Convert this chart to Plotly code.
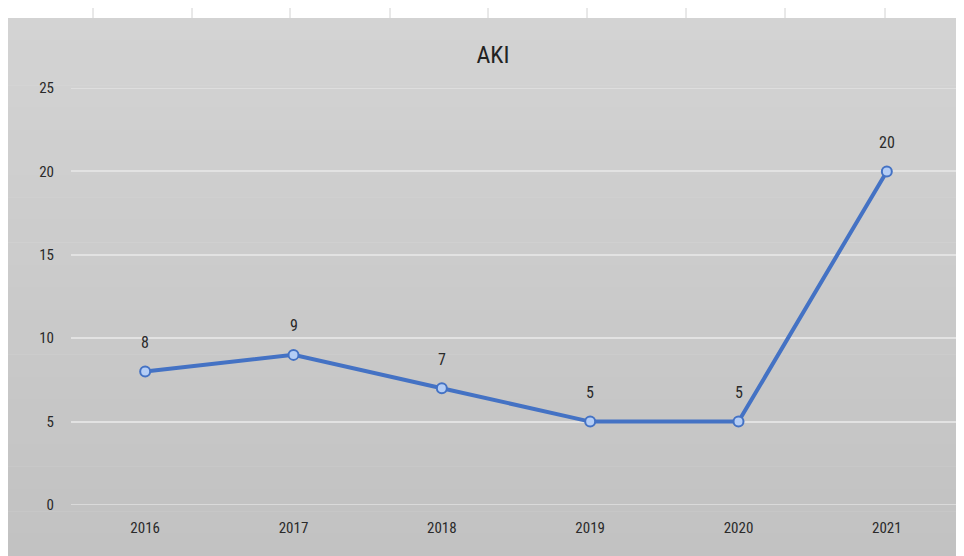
import plotly.graph_objects as go

years = ["2016", "2017", "2018", "2019", "2020", "2021"]
aki = [8, 9, 7, 5, 5, 20]
y_ticks = [0, 5, 10, 15, 20, 25]

FONT = "Liberation Sans Narrow, Arial Narrow, Roboto Condensed, sans-serif"

fig = go.Figure()
fig.add_trace(go.Scatter(
    x=years, y=aki, mode="lines+markers",
    line=dict(color="#4472c4", width=4),
    marker=dict(size=10, color="#b4cdf5", line=dict(color="#4472c4", width=2)),
    cliponaxis=False, showlegend=False,
))

annotations = [dict(x=i, y=v, xref="x", yref="y", text=str(v), showarrow=False, yshift=29,
                    font=dict(family=FONT, size=16, color="#2a2a2a"))
               for i, v in enumerate(aki)]

# figure sits inside the page's 8px body margin
W, H = 956, 548
l, r, t, b = 63, 3, 80, 51
pw, ph = W - l - r, H - t - b
def px(x): return (x - l) / pw
def py(y): return (H - b - y) / ph
shapes = []
top, bot = 10, H
n = 24
c0, c1 = 0xd3, 0xc2
for i in range(n):
    y0 = top + (bot - top) * i / n
    y1 = top + (bot - top) * (i + 1) / n
    c = round(c0 + (c1 - c0) * i / (n - 1))
    col = f"#{c:02x}{c:02x}{c:02x}"
    shapes.append(dict(type="rect", xref="paper", yref="paper", layer="below",
                       x0=px(0), x1=px(W), y0=py(y1 + 0.5), y1=py(y0),
                       fillcolor=col, line=dict(width=0)))
# faint ticks along top edge (outside panel)
for xx in [85, 184, 282, 382, 480, 579, 678, 777, 877]:
    shapes.append(dict(type="line", xref="paper", yref="paper", layer="below",
                       x0=px(xx), x1=px(xx), y0=py(0), y1=py(10),
                       line=dict(color="#d2d2d2", width=1)))
# edge gridlines (plotly omits gridlines on the range edges)
for gv in (y_ticks[0], y_ticks[-1]):
    shapes.append(dict(type="line", xref="paper", yref="y", layer="below",
                       x0=0, x1=1, y0=gv, y1=gv,
                       line=dict(color="#e2e2e2", width=1.5)))

fig.update_layout(
    width=W, height=H,
    margin=dict(l=l, r=r, t=t, b=b),
    paper_bgcolor="white",
    plot_bgcolor="rgba(0,0,0,0)",
    shapes=shapes,
    annotations=annotations,
    title=dict(text="AKI", x=485 / W, xanchor="center", y=1 - 47 / H, yanchor="middle",
               font=dict(family=FONT, size=24, color="#222222")),
    font=dict(family=FONT, size=15, color="#2a2a2a"),
    xaxis=dict(type="category", showgrid=False, zeroline=False, showline=False,
               ticks="", range=[-0.5, 5.5], ticklabelstandoff=12,
               tickfont=dict(size=15, color="#2a2a2a")),
    yaxis=dict(range=[0, 25], tickvals=y_ticks, showgrid=True, gridcolor="#e2e2e2",
               gridwidth=1.5, zeroline=False, showline=False, ticks="",
               ticklabelstandoff=16, tickfont=dict(size=15, color="#2a2a2a")),
)
fig.write_html("out.html")
